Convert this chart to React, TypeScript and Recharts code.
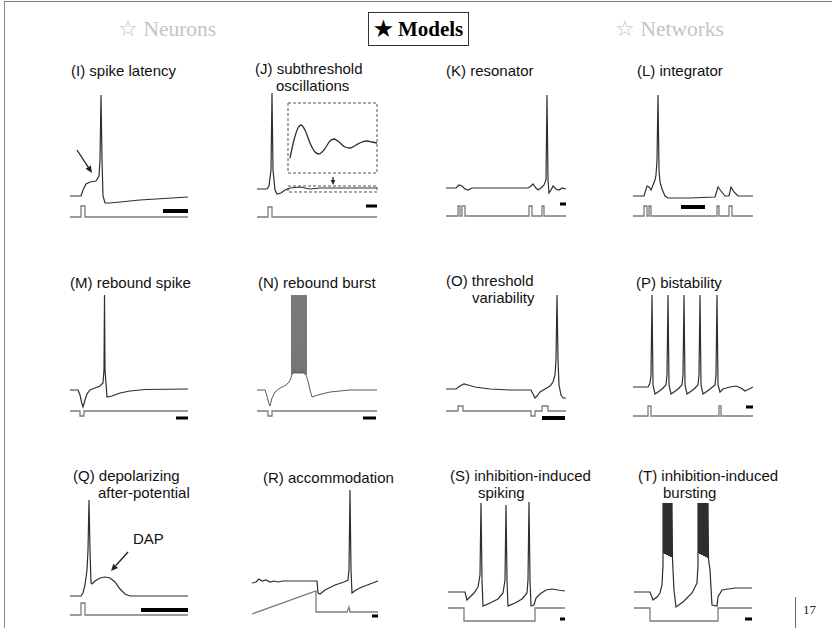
import React from "react";
import { LineChart, Line, XAxis, YAxis, ReferenceLine, ReferenceArea } from "recharts";

// each trace: [time, potential] pairs (time ~ px, potential above the panel base)
const latencyV = [[2,24],[13,24],[15,30],[18,36],[22,38],[28,39],[31,44],[32,60],[33,125],[34,60],[35,24],[37,17],[42,17],[72,20],[120,23]];
const latencyI = [[2,3],[13,3],[13,14],[17,14],[17,3],[120,3]];

const oscV = [[7,31],[17,31],[19,34],[21,50],[22,127],[23,50],[25,30],[27,26],[31,27],[35,30],[40,32],[50,33],[60,31],[70,32],[90,32],[127,32]];
const oscZoom = [[40,62],[44,80],[48,92],[51,95],[55,90],[60,77],[65,68],[69,66],[74,70],[80,79],[84,81],[89,78],[95,73],[100,72],[106,75],[112,78],[117,79],[122,78],[127,77]];
const oscI = [[7,3],[18,3],[18,13],[22,13],[22,3],[127,3]];

const resV = [[2,32],[12,32],[15,35],[18,34],[21,31],[24,30],[28,32],[84,32],[87,34],[89,36],[92,32],[94,30],[97,32],[100,35],[102,40],[103,125],[104,40],[105,27],[107,30],[109,34],[112,31],[115,30],[118,32],[122,31]];
const resI = [[2,4],[14,4],[14,14],[16,14],[16,4],[18,4],[18,14],[21,14],[21,4],[85,4],[85,14],[88,14],[88,4],[98,4],[98,14],[100,14],[100,4],[122,4]];

const intV = [[3,24],[14,24],[17,34],[19,33],[21,30],[23,35],[25,40],[26,45],[27,60],[28,125],[29,50],[30,38],[32,31],[35,24],[38,22],[60,22],[85,23],[88,33],[91,29],[95,24],[99,24],[101,33],[104,28],[108,24],[123,24]];
const intI = [[3,4],[14,4],[14,14],[17,14],[17,4],[19,4],[19,14],[21,14],[21,4],[87,4],[87,14],[89,14],[89,4],[99,4],[99,14],[102,14],[102,4],[123,4]];

const rbsV = [[2,30],[10,30],[12,25],[14,16],[15,13],[17,20],[19,26],[22,30],[27,32],[32,34],[35,37],[36,50],[36.5,125],[37,50],[39,23],[44,24],[52,27],[62,29],[77,30.5],[120,31]];
const rbsI = [[2,9],[12,9],[12,4],[16,4],[16,9],[120,9]];

const rbbV = [[7,30],[15,30],[17,24],[19,16],[20,14],[22,22],[25,28],[30,32],[36,35],[39,38],[41,42],
  [41.8,46],[42,125],[42.2,46],[43.8,47],[44,125],[44.2,47],[45.8,47],[46,125],[46.2,47],[47.8,47],[48,125],[48.2,47],
  [49.8,47],[50,125],[50.2,47],[51.8,47],[52,125],[52.2,47],[53.8,47],[54,125],[54.2,46],[55.8,46],[56,125],[56.2,44],
  [57,42],[58,39],[60,30],[62,23],[68,25],[80,28],[100,30],[127,30]];
const rbbI = [[7,9],[18,9],[18,4],[22,4],[22,9],[127,9]];

const thrV = [[2,31],[12,31],[16,34],[20,36],[24,35],[31,33],[46,31],[66,30],[87,30],[89,26],[91,22],[93,24],[96,28],[101,31],[106,34],[109,38],[111,45],[112,60],[113,125],[114,60],[115,35],[117,25],[119,22],[122,22]];
const thrI = [[2,9],[14,9],[14,14],[19,14],[19,9],[87,9],[87,4],[91,4],[91,9],[98,9],[98,14],[104,14],[104,9],[122,9]];

const bisV = [[3,33],[18,33],[20,37],[21,45],[22,125],[23,35],[25,26],[28,28],[32,31],[36,35],[37,45],[38,125],[39,35],[41,26],[44,28],[48,31],[52,35],[53,45],[54,125],[55,35],[57,26],[60,28],[64,31],[68,35],[69,45],[70,125],[71,35],[73,26],[76,28],[80,31],[85,35],[86,45],[87,125],[88,35],[90,28],[93,31],[100,33],[106,34],[111,32],[115,29],[119,31],[123,33]];
const bisI = [[3,4],[18,4],[18,14],[21,14],[21,4],[89,4],[89,14],[91,14],[91,4],[123,4]];

const dapV = [[2,29],[13,29],[15,32],[17,40],[19,55],[20,75],[21,125],[22,75],[23,42],[24,41],[27,44],[32,47],[37,48],[42,47],[47,43],[52,36],[57,31],[62,29],[120,29]];
const dapI = [[2,10],[13,10],[13,22],[17,22],[17,10],[120,10]];

const accV = [[2,42],[6,43],[9,46],[12,44],[16,45],[20,43],[24,44],[28,43],[33,44],[40,44],[67,44],[68,32],[70,31],[75,35],[85,40],[94,43],[98,45],[99,55],[100,135],[101,55],[102,32],[106,35],[112,38],[120,41],[128,44]];
const accI = [[2,11],[66,34],[66,13],[97,13],[99,18],[100,13],[128,13]];

const iisV = [[4,33],[21,33],[23,25],[26,28],[30,32],[34,38],[36,50],[37,122],[38,45],[39,19],[46,22],[54,26],[59,32],[61,45],[62,120],[63,45],[64,19],[71,22],[78,26],[83,32],[84,45],[85,123],[86,45],[87,19],[90,20],[92,27],[96,31],[102,35],[108,36],[114,35],[121,34]];
const iisI = [[4,17],[20,17],[20,4],[91,4],[91,17],[121,17]];

const iibV = [[4,33],[20,33],[23,25],[27,28],[30,32],[32,40],[33,60],
  [33,122],[33.5,72],[34,122],[34.5,71],[35,122],[35.5,71],[36,122],[36.5,70],[37,122],[37.5,70],[38,122],[38.5,69],[39,122],[39.5,69],[40,122],[40.5,68],[41,122],[41.5,68],[42,122],[42.5,66],
  [43,55],[44,35],[46,18],[53,23],[62,32],[67,42],[68,60],
  [68,122],[68.5,72],[69,122],[69.5,71],[70,122],[70.5,71],[71,122],[71.5,70],[72,122],[72.5,70],[73,122],[73.5,69],[74,122],[74.5,69],[75,122],[75.5,68],[76,122],[76.5,68],[77,122],[77.5,67],[78,122],[78.5,66],
  [80,55],[82,20],[87,19],[88,28],[92,35],[105,37],[122,37]];
const iibI = [[4,17],[20,17],[20,4],[88,4],[88,17],[122,17]];

const W = 130;
const VMIN = -5;
const VMAX = 140;
const TRACE = "#2e2e2e";
const STIM = "#7c7c7c";
const SANS = "'Liberation Sans', Arial, Helvetica, sans-serif";
const SERIF = "'Liberation Serif', 'Times New Roman', serif";

type Pair = number[];
const toPts = (a: Pair[]) => a.map(([t, v]) => ({ t, v }));

const arrowShape = (p: any) => {
  const { x1, y1, x2, y2 } = p;
  const a = Math.atan2(y2 - y1, x2 - x1);
  const len = p.head ?? 7;
  const wid = len * 0.45;
  const bx = x2 - len * Math.cos(a);
  const by = y2 - len * Math.sin(a);
  const nx = -Math.sin(a) * wid;
  const ny = Math.cos(a) * wid;
  return (
    <g>
      <line x1={x1} y1={y1} x2={bx} y2={by} stroke="#222" strokeWidth={1.3} />
      <polygon points={`${x2},${y2} ${bx + nx},${by + ny} ${bx - nx},${by - ny}`} fill="#222" />
    </g>
  );
};

const panels = [
  { x: 68, base: 220, trace: latencyV, stim: latencyI, bar: [95, 120, 9, 4], arrow: [9, 70, 24, 47, 7] },
  { x: 250, base: 220, trace: oscV, stim: oscI, inset: oscZoom, bar: [116, 127, 14, 3],
    boxes: [[38, 127, 47, 117], [38, 127, 28, 34]], arrow: [83, 43, 83, 35, 5] },
  { x: 444, base: 220, trace: resV, stim: resI, bar: [116, 122, 16, 3] },
  { x: 630, base: 220, trace: intV, stim: intI, bar: [51, 75, 13, 4] },
  { x: 68, base: 420, trace: rbsV, stim: rbsI, bar: [108, 120, 2, 3] },
  { x: 250, base: 420, trace: rbbV, stim: rbbI, bar: [113, 126, 2, 3], lw: 0.8 },
  { x: 444, base: 420, trace: thrV, stim: thrI, bar: [98, 121, 2, 4] },
  { x: 630, base: 420, trace: bisV, stim: bisI, bar: [116, 123, 13, 3] },
  { x: 68, base: 625, trace: dapV, stim: dapI, bar: [73, 120, 15, 4], arrow: [60, 73, 43, 54, 7] },
  { x: 250, base: 625, trace: accV, stim: accI, bar: [122, 128, 9, 3] },
  { x: 444, base: 625, trace: iisV, stim: iisI, bar: [116, 121, 6, 3] },
  { x: 630, base: 625, trace: iibV, stim: iibI, bar: [115, 122, 6, 3] },
];

// [text, left, centre y]
const titles: [string, number, number][] = [
  ["(I) spike latency", 71, 70],
  ["(J) subthreshold", 255, 68.5],
  ["oscillations", 276, 85.5],
  ["(K) resonator", 446, 70],
  ["(L) integrator", 637, 70],
  ["(M) rebound spike", 70, 282],
  ["(N) rebound burst", 258, 282],
  ["(O) threshold", 446, 280.5],
  ["variability", 472, 297.5],
  ["(P) bistability", 636, 282],
  ["(Q) depolarizing", 73, 475.5],
  ["after-potential", 98, 492.5],
  ["(R) accommodation", 263, 477],
  ["(S) inhibition-induced", 450, 475.5],
  ["spiking", 478, 492.5],
  ["(T) inhibition-induced", 638, 475.5],
  ["bursting", 663, 492.5],
  ["DAP", 133, 538],
];

function Panel({ p }: { p: any }) {
  return (
    <div style={{ position: "absolute", left: p.x, top: p.base - VMAX }}>
      <LineChart width={W} height={VMAX - VMIN} margin={{ top: 0, right: 0, bottom: 0, left: 0 }}>
        <XAxis type="number" dataKey="t" domain={[0, W]} hide />
        <YAxis type="number" dataKey="v" domain={[VMIN, VMAX]} hide />
        {(p.boxes || []).map((b: number[], i: number) => (
          <ReferenceArea key={i} x1={b[0]} x2={b[1]} y1={b[2]} y2={b[3]} fill="none" fillOpacity={0}
            stroke="#555" strokeWidth={1} strokeDasharray="3 2" />
        ))}
        <Line data={toPts(p.stim)} dataKey="v" type="linear" stroke={STIM} strokeWidth={1.3}
          dot={false} activeDot={false} isAnimationActive={false} />
        <Line data={toPts(p.trace)} dataKey="v" type="linear" stroke={TRACE} strokeWidth={p.lw ?? 1.2}
          dot={false} activeDot={false} isAnimationActive={false} />
        {p.inset && (
          <Line data={toPts(p.inset)} dataKey="v" type="monotone" stroke={TRACE} strokeWidth={1.3}
            dot={false} activeDot={false} isAnimationActive={false} />
        )}
        <ReferenceLine segment={[{ x: p.bar[0], y: p.bar[2] }, { x: p.bar[1], y: p.bar[2] }]}
          stroke="#000" strokeWidth={p.bar[3]} />
        {p.arrow && (
          <ReferenceLine segment={[{ x: p.arrow[0], y: p.arrow[1] }, { x: p.arrow[2], y: p.arrow[3] }]}
            shape={(props: any) => arrowShape({ ...props, head: p.arrow[4] })} />
        )}
      </LineChart>
    </div>
  );
}

export default function App() {
  return (
    <div style={{ position: "relative", width: 832, height: 628, background: "#fff", overflow: "hidden" }}>
      <style>{"body{margin:0}"}</style>
      <div style={{ position: "absolute", left: 4, top: 1, width: 828, height: 0, borderTop: "1.5px solid #777" }} />
      <div style={{ position: "absolute", left: 4, top: 1, width: 0, height: 627, borderLeft: "1px solid #888" }} />
      <div style={{ position: "absolute", left: 795, top: 597, width: 0, height: 31, borderLeft: "1px solid #666" }} />

      <div style={{ position: "absolute", left: 118, top: 16, lineHeight: "26px", fontFamily: SERIF, fontSize: 21.5, color: "#c4c4c4", whiteSpace: "nowrap" }}>☆ Neurons</div>
      <div style={{ position: "absolute", left: 368, top: 12, width: 101, height: 34, border: "1px solid #333",
        boxSizing: "border-box", fontFamily: SERIF, fontSize: 21, fontWeight: "bold", color: "#000",
        display: "flex", alignItems: "center", justifyContent: "center", whiteSpace: "nowrap" }}>★ Models</div>
      <div style={{ position: "absolute", left: 615, top: 16, lineHeight: "26px", fontFamily: SERIF, fontSize: 21.5, color: "#c4c4c4", whiteSpace: "nowrap" }}>☆ Networks</div>

      {titles.map(([s, x, y], i) => (
        <div key={i} style={{ position: "absolute", left: x, top: y - 8.5, lineHeight: "17px", fontFamily: SANS,
          fontSize: 15, color: "#111", whiteSpace: "nowrap" }}>{s}</div>
      ))}

      {panels.map((p, i) => <Panel key={i} p={p} />)}

      <div style={{ position: "absolute", left: 803, top: 602, lineHeight: "16px", fontFamily: SERIF, fontSize: 13, color: "#222" }}>17</div>
    </div>
  );
}
